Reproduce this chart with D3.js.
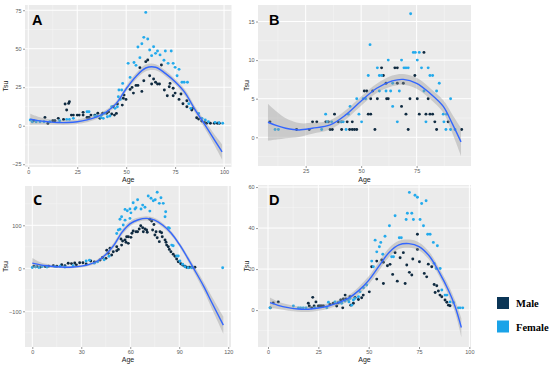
<!DOCTYPE html>
<html>
<head>
<meta charset="utf-8">
<script src="https://cdn.jsdelivr.net/npm/d3@7"></script>
<style>
  html, body { margin: 0; padding: 0; background: #fff; }
  svg { display: block; font-family: Arial, "Liberation Sans", sans-serif; }
</style>
</head>
<body>
<svg id="chart" width="550" height="365"></svg>
<script>
// ---- data: [age, Tsu] ----
const aMale = [[2.6,3.2],[8.5,5.4],[10,1.5],[12.5,3.2],[13.6,3.2],[15.3,4.8],[18,4.1],[18.8,14.1],[19.6,10.2],[20.6,14.5],[21,15.6],[22,6.9],[23,6.9],[25,6.9],[26,6.9],[28,6.9],[28,8.7],[30,5.4],[31,5.4],[32,6.9],[34,6.9],[35.5,8.1],[36.6,4.8],[38,8.1],[40,8.1],[41,9.1],[42.6,7.6],[43.4,12.3],[44,6.9],[45,8],[45.5,14.1],[48,13.4],[48.5,17.8],[49.9,17.1],[48.9,19.9],[52,23.6],[53,24.9],[53.7,21.2],[55,26.2],[56,26.2],[58,22.3],[57,37.7],[59,29.2],[60,41.6],[61,42.7],[62,32.5],[63,27.1],[64,30.3],[65,28.2],[66,27.1],[67,27.1],[68,39.4],[69.5,23.2],[71,19.5],[72,25.3],[72.4,27.5],[74,24.3],[74,19.5],[75,21.2],[77,17.1],[78,20.6],[79,14.3],[81,16.2],[81,12.3],[83.5,10.2],[84,11.3],[86,5.2],[87,4.3],[88.6,3.1],[90,2.2],[91,1.6],[93,1.6],[95,1.6],[96.6,1.6],[97.6,1.6]];
const aFemale = [[1,3.7],[2,2.6],[4,2.6],[6,2.6],[8,2.6],[11,2.6],[16,3.2],[19.6,4.1],[21,4.1],[23,4.8],[30,9.1],[31,9.1],[34,6.3],[35,6.3],[37,5.4],[37.5,6.9],[38.3,4.8],[39,8.1],[40.4,5.8],[41.7,6.3],[42.6,12.3],[44.3,11.3],[45.5,12.3],[46,18.8],[46.3,23.2],[47,17.1],[47.7,23.2],[48.2,27.5],[51,40.5],[52,31.4],[54,41.1],[55,39.2],[56,51.1],[57,44.2],[58,53.2],[59,57.4],[60,73.6],[61,56.3],[62,49.2],[63,45.5],[64,51.3],[65,47],[66,48.5],[67.3,46],[69.3,42.5],[70,48.5],[71.4,40.5],[73,48.5],[74,40.5],[75,37.9],[76,32.5],[77,36.6],[78.5,28.2],[79.6,28.2],[81.3,28.2],[82,14.3],[83,11.3],[87,8],[88.7,4.8],[90.4,3.7],[92,2.6],[95.4,2.2],[97.4,1.9],[99.3,1.6]];
const aFitAge = [1,5,10,15,20,25,30,35,40,45,50,55,60,65,70,75,80,85,90,95,99];
const aFit    = [4.2,3.3,2.6,2.1,2.1,2.6,3.8,5.8,9.1,14.5,24,32,37.5,38,34,28.5,21.5,10.8,1,-9,-17];
const aFitSe  = [3.5,2.5,1.8,1.5,1.5,1.5,1.5,1.5,1.5,1.6,1.8,2,2.2,2,1.8,1.8,2,2,2.5,3.5,5];

const bMale = [[8.9,2],[20.9,1],[26.6,1],[28.1,2],[30,2],[34.1,2],[35.2,2],[36,1],[37,1],[38,3],[39.7,2],[41.2,2],[41.2,1],[43.7,2],[44.8,1],[46,2],[46,1],[47,1],[48,1],[51.4,6],[52.5,6],[53.2,3],[54.3,3],[54.3,5],[55.2,6],[56.2,1],[57.3,5],[59.2,9],[60,8],[61.2,7],[61.5,5],[62.2,5],[65.2,9],[66.3,9],[66.3,7],[68.2,4],[69,7],[70.2,3],[71.2,1],[72,5],[74.2,8],[75.3,5],[76.2,3],[78.3,11],[79.2,3],[80.2,5],[81,3],[82.2,3],[83.2,2],[84,1],[89.2,2],[95.3,1]];
const bFemale = [[11.2,1],[12.7,1],[32.2,1],[34,3],[34.7,2],[36.7,2],[40.8,2],[41.9,2],[43.2,1],[44.2,3],[45,4],[48,5],[49,3],[50.2,2],[50.9,5],[52,5],[53.2,8],[54,12],[57.3,9],[58.2,8],[58.2,6],[59.2,8],[61.2,6],[62.2,10],[63.3,6],[64.2,7],[64.2,4],[66.3,2],[67.2,6],[68.2,10],[69.3,9],[70.2,9],[71.2,9],[72.3,16],[73.5,11],[74.4,11],[75.3,10],[76.2,11],[77.2,9],[78.3,6],[79.2,2],[80.2,9],[81,8],[82.2,8],[84,6],[85.2,7],[87,3],[87.3,2],[88.2,1],[88.5,3],[90.3,5],[90.3,1],[92.3,1]];
const bFitAge = [8,12,16,22,28,36,43,50,57,64,69,75,81,87,91,95];
const bFit    = [1.95,1.5,1.17,0.95,1.17,1.6,2.9,4.7,6.35,7.3,7.5,7,5.7,4,1.8,-0.6];
const bFitSe  = [2.4,1.8,1.3,0.9,0.7,0.6,0.6,0.6,0.6,0.7,0.7,0.7,0.7,0.8,1.2,1.8];

const cMale = [[1,5],[3,4],[5,3],[8,4],[10,5],[12.9,6],[15,5],[18,8.4],[20,6],[22,11.6],[24,11],[26,12.3],[27,8],[29,13],[31,13],[33,10],[35.8,17],[38,15],[41.5,19.3],[43,25],[45.1,23.2],[45.6,42],[46.5,35],[47.6,46.5],[48.6,31],[49.6,38.6],[51.7,41],[51.7,50],[52.7,44],[54.3,68],[54.7,54],[55.3,63.5],[56.8,66],[57.4,60.5],[57.8,73.5],[58.8,73.5],[58.8,58],[60.4,72],[61,81.4],[61.8,86.7],[63.5,85],[64.5,85],[65.5,91.4],[66.4,99],[67.6,94.4],[68,85],[69,91.4],[70,89],[70.4,83.7],[72,114],[73.1,110],[73.7,89],[74.5,102],[75.1,77.4],[75.8,85],[76.5,71],[77.8,62],[78.2,85],[79.2,82.8],[79.6,73.5],[81.3,66],[81.9,60.5],[82.3,54],[83.3,50],[83.9,44],[84.9,38.6],[86.3,32.6],[87.4,28],[88.4,21.6],[89.4,15.3],[90.9,10.7],[92.1,7.7],[93.5,4.7],[94.5,2.3],[96.1,2.3],[97.6,2.3],[99.6,2.3]];
const cFemale = [[0,2],[2,3],[4,2],[6,4],[9,3],[14,4],[17,5],[20,3],[25,6],[33,17],[35,19],[38,12],[40,15],[44,20],[47,28],[51.7,81],[52.7,89],[53.7,90.7],[53.7,114],[54.7,120],[55.7,100.7],[56.8,112],[56.8,137],[58.2,134],[59.8,138],[59.8,116],[60.4,129],[61.8,152.6],[62.9,138],[63.5,141],[64.5,159.5],[66.6,138],[67.6,147],[69,142],[71,168],[72,133],[72.7,163],[74.1,157],[75.3,159.5],[76.5,176.7],[77.8,151],[78.8,164],[80.2,151],[81.3,120],[81.7,131.6],[83.3,94.4],[83.9,93],[85.4,54],[86.3,52.6],[88.4,28.6],[89.4,28.6],[90.4,17],[92.1,9.3],[93.5,3.7],[95.5,1.4],[97.6,1.4],[116.6,1.4]];
const cFitAge = [0,5,10,15,20,25,30,35,40,45,50,55,60,65,70,75,80,85,90,95,100,105,110,117];
const cFit    = [12,8,5.5,3.5,2.5,3,5,9,17,32,54,84,104,113,116,112,100,82,56,25,-8,-42,-80,-132];
const cFitSe  = [12,6,4,3,3,3,3,3,4,5,6,6,6,5,5,5,5,5,5,6,8,10,14,20];

const dMale = [[1.1,1.1],[2.6,3.5],[5.1,4],[20,3.3],[20.5,2],[21.7,1.1],[22.2,6.2],[22.9,2],[23.8,4],[25,2],[25.8,2],[26.6,2],[27.5,2],[30.8,2.8],[32.4,3.3],[34.1,2],[34.9,3.6],[36.1,4.9],[37.1,1.1],[37.4,5.4],[38.3,7.3],[38.7,5.4],[40.7,6.5],[41.1,2.4],[42.4,3.3],[43.2,6.2],[44.9,5.2],[46.5,6],[47.3,7.3],[50.3,8.9],[51.5,21.1],[54,23.9],[54,15.1],[56.5,24.4],[57.3,23.3],[57.3,13],[59.3,21.6],[60.6,22.3],[61.9,17.4],[63.1,28],[64.2,14.1],[65.6,25.5],[67.2,28],[68.1,13],[68.9,22],[70.2,18.4],[71.4,17.1],[71.9,24.9],[74.2,37],[74.2,29.6],[75.2,23.6],[77.6,17.9],[78.8,16.2],[79.6,22.4],[81.3,21.1],[82.5,12.5],[83,8.6],[83.8,11.9],[84.6,9.3],[85.4,7.3],[86.3,6.5],[87.9,4.9],[88.8,3.8],[89.6,2.4],[90.4,2.1]];
const dFemale = [[1,1.1],[12.6,2],[15.1,1.1],[16.2,1.1],[17.5,1.1],[18.9,1.1],[23.3,1.1],[29.2,1.1],[30,3.8],[33.3,4],[35.4,3.8],[36.6,3.3],[38.3,4.4],[39.9,4.9],[40.2,4],[40.7,5.7],[41.6,2.4],[42.4,4.9],[43.2,5.7],[44.9,6.5],[45.7,8.9],[47.4,10.9],[49,12.2],[51.5,23.9],[52.3,21.1],[53.2,34.1],[54,28.4],[55.3,30.9],[56,33],[57,27.2],[58.1,36],[60.3,41.1],[61.4,26],[62.3,26],[63.1,46],[65.2,35.3],[66.2,35.3],[68.6,44.2],[69.2,47.2],[70.2,57.4],[71.4,47.2],[72.2,44.2],[73,56],[74.2,55],[75.5,44.2],[76.3,52],[77.2,41.1],[78.5,53.3],[79.3,37],[80.5,37],[82.1,33],[82.5,22.8],[83.5,20.3],[84.1,31.4],[85.5,20.3],[86.3,9.8],[87.9,7.3],[88.8,7.3],[90.4,4],[92.1,3.7],[94.5,1.1],[95.4,1.1],[96.7,1.1]];
const dFitAge = [1,5,10,15,20,25,30,35,40,45,50,55,60,65,70,75,80,85,90,93,96];
const dFit    = [3.6,2.3,1.2,0.5,0.4,1,2,3.6,5.8,9.5,14.5,21.3,28,31.8,32.4,31,26.5,18.5,8.8,1.5,-8.5];
const dFitSe  = [2.5,1.8,1.5,1.3,1.3,1.3,1.3,1.3,1.5,1.8,2,2.2,2.2,2,2,2,2,2,2.5,3,4.5];

// tick labels
const aXTicks = [0, 25, 50, 75, 100], aYTicks = [-25, 0, 25, 50, 75];
const bXTicks = [25, 50, 75],         bYTicks = [0, 5, 10, 15];
const cXTicks = [0, 30, 60, 90, 120], cYTicks = [-100, 0, 100];
const dXTicks = [0, 25, 50, 75, 100], dYTicks = [0, 20, 40, 60];

const legendLabels = ['Male', 'Female'];

// ---- styling ----
const maleColor = '#0f2a40';
const femaleColor = '#23aaec';
const lineColor = '#3366ff';

const svg = d3.select('#chart');

const panels = [
  { id: 'A', left: 25, right: 231.5, top: 5, bottom: 167, xDom: [-1.69, 103.8], yDom: [-26.8, 78.4],
    male: aMale, female: aFemale, fitAge: aFitAge, fit: aFit, se: aFitSe, xTicks: aXTicks, yTicks: aYTicks,
    titleX: 6, ageY: 182, letterX: 32, letterY: 25, letterFont: 'Arial, sans-serif' },
  { id: 'B', left: 258, right: 471, top: 5, bottom: 166, xDom: [3.51, 99.5], yDom: [-3.72, 17.14],
    male: bMale, female: bFemale, fitAge: bFitAge, fit: bFit, se: bFitSe, xTicks: bXTicks, yTicks: bYTicks,
    titleX: 247, ageY: 182, letterX: 269, letterY: 25, letterFont: 'Arial, sans-serif' },
  { id: 'C', left: 25, right: 231, top: 186, bottom: 347, xDom: [-4.47, 121.7], yDom: [-183, 191.4],
    male: cMale, female: cFemale, fitAge: cFitAge, fit: cFit, se: cFitSe, xTicks: cXTicks, yTicks: cYTicks,
    titleX: 6, ageY: 362, letterX: 33, letterY: 205, letterFont: '"Open Sans", sans-serif' },
  { id: 'D', left: 258, right: 471, top: 185, bottom: 347, xDom: [-4.97, 100.8], yDom: [-18, 61],
    male: dMale, female: dFemale, fitAge: dFitAge, fit: dFit, se: dFitSe, xTicks: dXTicks, yTicks: dYTicks,
    titleX: 247, ageY: 362, letterX: 269, letterY: 205, letterFont: 'Arial, sans-serif' }
];

function midpoints(ticks, dom) {
  const step = ticks.length > 1 ? ticks[1] - ticks[0] : 10;
  const out = [];
  for (let v = ticks[0] - step / 2; v <= dom[1]; v += step) {
    if (v >= dom[0]) out.push(v);
  }
  return out;
}

panels.forEach(p => {
  const x = d3.scaleLinear().domain(p.xDom).range([p.left, p.right]);
  const y = d3.scaleLinear().domain(p.yDom).range([p.bottom, p.top]);
  const g = svg.append('g');

  const clipId = 'clip' + p.id;
  svg.append('clipPath').attr('id', clipId)
    .append('rect').attr('x', p.left).attr('y', p.top)
    .attr('width', p.right - p.left).attr('height', p.bottom - p.top);

  g.append('rect')
    .attr('x', p.left).attr('y', p.top)
    .attr('width', p.right - p.left).attr('height', p.bottom - p.top)
    .attr('fill', '#ebebeb');

  // minor grid
  const grid = g.append('g').attr('clip-path', `url(#${clipId})`);
  midpoints(p.xTicks, p.xDom).forEach(v => {
    grid.append('line').attr('x1', x(v)).attr('x2', x(v)).attr('y1', p.top).attr('y2', p.bottom)
      .attr('stroke', '#f7f7f7').attr('stroke-width', 0.5);
  });
  midpoints(p.yTicks, p.yDom).forEach(v => {
    grid.append('line').attr('y1', y(v)).attr('y2', y(v)).attr('x1', p.left).attr('x2', p.right)
      .attr('stroke', '#f7f7f7').attr('stroke-width', 0.5);
  });
  // major grid
  p.xTicks.forEach(v => {
    grid.append('line').attr('x1', x(v)).attr('x2', x(v)).attr('y1', p.top).attr('y2', p.bottom)
      .attr('stroke', '#fff').attr('stroke-width', 1);
  });
  p.yTicks.forEach(v => {
    grid.append('line').attr('y1', y(v)).attr('y2', y(v)).attr('x1', p.left).attr('x2', p.right)
      .attr('stroke', '#fff').attr('stroke-width', 1);
  });

  // axes
  const xAxis = d3.axisBottom(x).tickValues(p.xTicks).tickSize(2).tickPadding(1);
  const yAxis = d3.axisLeft(y).tickValues(p.yTicks).tickSize(2).tickPadding(1.5);
  const xa = g.append('g').attr('transform', `translate(0,${p.bottom})`).call(xAxis);
  const ya = g.append('g').attr('transform', `translate(${p.left},0)`).call(yAxis);
  [xa, ya].forEach(a => {
    a.select('.domain').remove();
    a.selectAll('.tick line').attr('stroke', '#555').attr('stroke-width', 0.6);
    a.selectAll('.tick text').attr('fill', '#5a5a5a').attr('font-size', 5.5)
      .attr('font-family', 'Arial, sans-serif');
  });

  // points
  const pts = g.append('g').attr('clip-path', `url(#${clipId})`);
  pts.selectAll('circle.m').data(p.male).join('circle')
    .attr('cx', d => x(d[0])).attr('cy', d => y(d[1])).attr('r', 1.45).attr('fill', maleColor);
  pts.selectAll('circle.f').data(p.female).join('circle')
    .attr('cx', d => x(d[0])).attr('cy', d => y(d[1])).attr('r', 1.45).attr('fill', femaleColor);

  // smooth + band
  const fitData = p.fitAge.map((a, i) => ({ a, v: p.fit[i], s: p.se[i] }));
  const band = d3.area().curve(d3.curveCatmullRom)
    .x(d => x(d.a)).y0(d => y(d.v - d.s)).y1(d => y(d.v + d.s));
  const line = d3.line().curve(d3.curveCatmullRom)
    .x(d => x(d.a)).y(d => y(d.v));
  const fitG = g.append('g').attr('clip-path', `url(#${clipId})`);
  fitG.append('path').attr('d', band(fitData)).attr('fill', '#999').attr('opacity', 0.4);
  fitG.append('path').attr('d', line(fitData)).attr('fill', 'none')
    .attr('stroke', lineColor).attr('stroke-width', 1.4);

  // axis titles
  g.append('text').attr('x', (p.left + p.right) / 2).attr('y', p.ageY)
    .attr('text-anchor', 'middle').attr('font-size', 7).attr('fill', '#222').text('Age');
  g.append('text')
    .attr('transform', `translate(${p.titleX},${(p.top + p.bottom) / 2}) rotate(-90)`)
    .attr('text-anchor', 'middle').attr('dominant-baseline', 'middle')
    .attr('font-size', 7).attr('fill', '#222').text('Tsu');

  // panel letter
  g.append('text').attr('x', p.letterX).attr('y', p.letterY)
    .attr('font-size', 14.5).attr('font-weight', 'bold')
    .attr('font-family', p.letterFont).attr('fill', '#000').text(p.id);
});

// legend
const legend = svg.append('g');
const legendColors = ['#0a3556', '#1aa3e8'];
legendLabels.forEach((lab, i) => {
  const yy = 297 + i * 23.5;
  legend.append('rect').attr('x', 497).attr('y', yy).attr('width', 12).attr('height', 12)
    .attr('fill', legendColors[i]);
  legend.append('text').attr('x', 516).attr('y', yy + 10)
    .attr('font-family', '"Liberation Serif", "Times New Roman", serif')
    .attr('font-weight', 'bold').attr('font-size', 10.5).attr('fill', '#000').text(lab);
});
</script>
</body>
</html>
